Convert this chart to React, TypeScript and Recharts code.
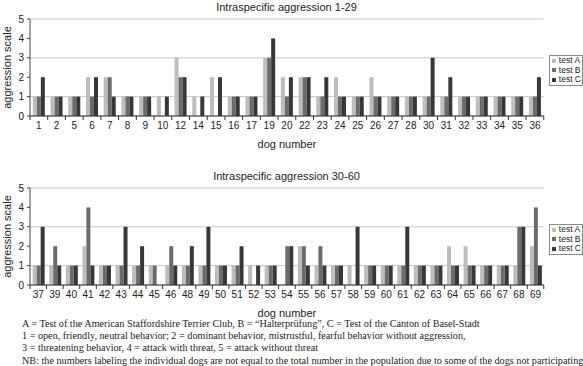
import { BarChart, Bar, XAxis, YAxis, CartesianGrid, Legend } from "recharts";

// dog numbers and scores (0 = no bar drawn)
const dogs1 = ["1","2","5","6","7","8","9","10","12","14","15","16","17","19","20","22","23","24","25","26","27","28","30","31","32","33","34","35","36"];
const testA1 = [1,1,1,2,2,1,1,1,3,1,2,1,1,3,2,2,1,2,1,2,1,1,1,1,1,1,1,1,1];
const testB1 = [1,1,1,1,2,1,1,0,2,0,0,1,1,3,1,2,1,1,1,1,1,1,1,1,1,1,1,1,1];
const testC1 = [2,1,1,2,1,1,1,1,2,1,2,1,1,4,2,2,2,1,1,1,1,1,3,2,1,1,1,1,2];

const dogs2 = ["37","39","40","41","42","43","44","45","46","48","49","50","51","52","53","54","55","56","57","58","59","60","61","62","63","64","65","66","67","68","69"];
const testA2 = [1,1,1,2,1,1,1,1,1,1,1,1,1,1,1,0,2,1,1,1,1,1,1,1,1,2,2,1,1,1,2];
const testB2 = [1,2,1,4,1,1,1,1,2,1,1,1,1,0,1,2,2,2,1,0,1,1,1,1,1,1,1,1,1,3,4];
const testC2 = [3,1,1,1,1,3,2,0,1,2,3,1,2,1,1,2,1,1,1,3,1,1,3,1,1,1,1,1,1,3,1];

const scaleTicks = [0, 1, 2, 3, 4, 5];

const notes = [
  "A = Test of the American Staffordshire Terrier Club, B = \u201cHalterpr\u00fcfung\u201d, C = Test of the Canton of Basel-Stadt",
  "1 = open, friendly, neutral behavior; 2 = dominant behavior, mistrustful, fearful behavior without aggression,",
  "3 = threatening behavior, 4 = attack with threat, 5 = attack without threat",
  "NB: the numbers labeling the individual dogs are not equal to the total number in the population due to some of the dogs not participating",
];

const COLORS = { a: "#bdbdbd", b: "#6b6b6b", c: "#373737" };
const FONT = "'Liberation Sans', Arial, sans-serif";
const W = 583;
const H = 150;
const PLOT_LEFT = 30;
const PLOT_W = 513;

const makeRows = (dogs: string[], a: number[], b: number[], c: number[]) =>
  dogs.map((dog, i) => ({ dog, a: a[i], b: b[i], c: c[i] }));

// x tick: label under the bar group, tick mark on the category boundary
const XTick = ({ x, y, payload, index, n }: any) => {
  const half = PLOT_W / n / 2;
  const axisY = y - 6;
  return (
    <g>
      <line x1={x - half} x2={x - half} y1={axisY} y2={axisY + 4} stroke="#333" />
      {index === n - 1 && <line x1={x + half} x2={x + half} y1={axisY} y2={axisY + 4} stroke="#333" />}
      <text x={x} y={y} dy="0.71em" textAnchor="middle" fontSize={10} fill="#222" fontFamily={FONT}>
        {payload.value}
      </text>
    </g>
  );
};

const LegendBox = ({ payload }: any) => (
  <div style={{ paddingLeft: 5 }}>
    <div
      style={{
        border: "1px solid #8a8a8a",
        background: "#fff",
        padding: "0 1px 0 2px",
        fontSize: 8.5,
        lineHeight: "9.6px",
        fontFamily: FONT,
        color: "#222",
      }}
    >
      {(payload || []).map((p: any) => (
        <div key={p.value} style={{ display: "flex", alignItems: "center", whiteSpace: "nowrap", height: 9.6 }}>
          <span style={{ display: "inline-block", width: 4, height: 4, background: p.color, marginRight: 3 }} />
          {p.value}
        </div>
      ))}
    </div>
  </div>
);

const AggressionChart = ({ title, rows, top }: { title: string; rows: any[]; top: number }) => (
  <div style={{ position: "absolute", left: 0, top, width: W, height: H }}>
    <div
      style={{
        position: "absolute",
        left: PLOT_LEFT,
        top: 0,
        width: PLOT_W,
        lineHeight: "14px",
        fontSize: 11,
        textAlign: "center",
        color: "#222",
        fontFamily: FONT,
      }}
    >
      {title}
    </div>
    <BarChart
      width={W}
      height={H}
      data={rows}
      margin={{ top: 19, right: 0, bottom: 2, left: 0 }}
      barCategoryGap="16%"
      barGap={0}
    >
      <CartesianGrid vertical={false} stroke="#c8c8c8" />
      <XAxis
        dataKey="dog"
        interval={0}
        height={32}
        tickSize={0}
        tickMargin={6}
        axisLine={{ stroke: "#333" }}
        tickLine={false}
        tick={(p: any) => <XTick {...p} n={rows.length} />}
        label={{ value: "dog number", position: "insideBottom", offset: 0, fontSize: 11, fill: "#222", fontFamily: FONT }}
      />
      <YAxis
        width={PLOT_LEFT}
        domain={[0, 5]}
        ticks={scaleTicks}
        tickSize={3}
        tickMargin={3}
        axisLine={{ stroke: "#444" }}
        tickLine={{ stroke: "#444" }}
        tick={{ fontSize: 10, fill: "#222", fontFamily: FONT }}
        label={{
          value: "aggression scale",
          angle: -90,
          position: "insideLeft",
          offset: 7,
          fontSize: 11,
          fill: "#222",
          fontFamily: FONT,
          style: { textAnchor: "middle" },
        }}
      />
      <YAxis yAxisId="frame" orientation="right" width={0} domain={[0, 5]} tick={false} tickLine={false} axisLine={{ stroke: "#9a9a9a" }} />
      <Legend layout="vertical" align="right" verticalAlign="top" wrapperStyle={{ top: 55 }} content={<LegendBox />} />
      <Bar dataKey="a" name="test A" fill={COLORS.a} isAnimationActive={false} />
      <Bar dataKey="b" name="test B" fill={COLORS.b} isAnimationActive={false} />
      <Bar dataKey="c" name="test C" fill={COLORS.c} isAnimationActive={false} />
    </BarChart>
  </div>
);

export default function App() {
  return (
    <div style={{ position: "absolute", left: 0, top: 0, width: W, height: 366, background: "#fff", overflow: "hidden" }}>
      <AggressionChart title="Intraspecific aggression 1-29" rows={makeRows(dogs1, testA1, testB1, testC1)} top={0} />
      <AggressionChart title="Intraspecific aggression 30-60" rows={makeRows(dogs2, testA2, testB2, testC2)} top={169} />
      <div
        style={{
          position: "absolute",
          left: 22,
          top: 318,
          fontFamily: "'Liberation Serif', 'Times New Roman', serif",
          fontSize: 10.2,
          lineHeight: "12.2px",
          color: "#222",
          whiteSpace: "nowrap",
        }}
      >
        {notes.map((t) => (
          <div key={t}>{t}</div>
        ))}
      </div>
    </div>
  );
}
